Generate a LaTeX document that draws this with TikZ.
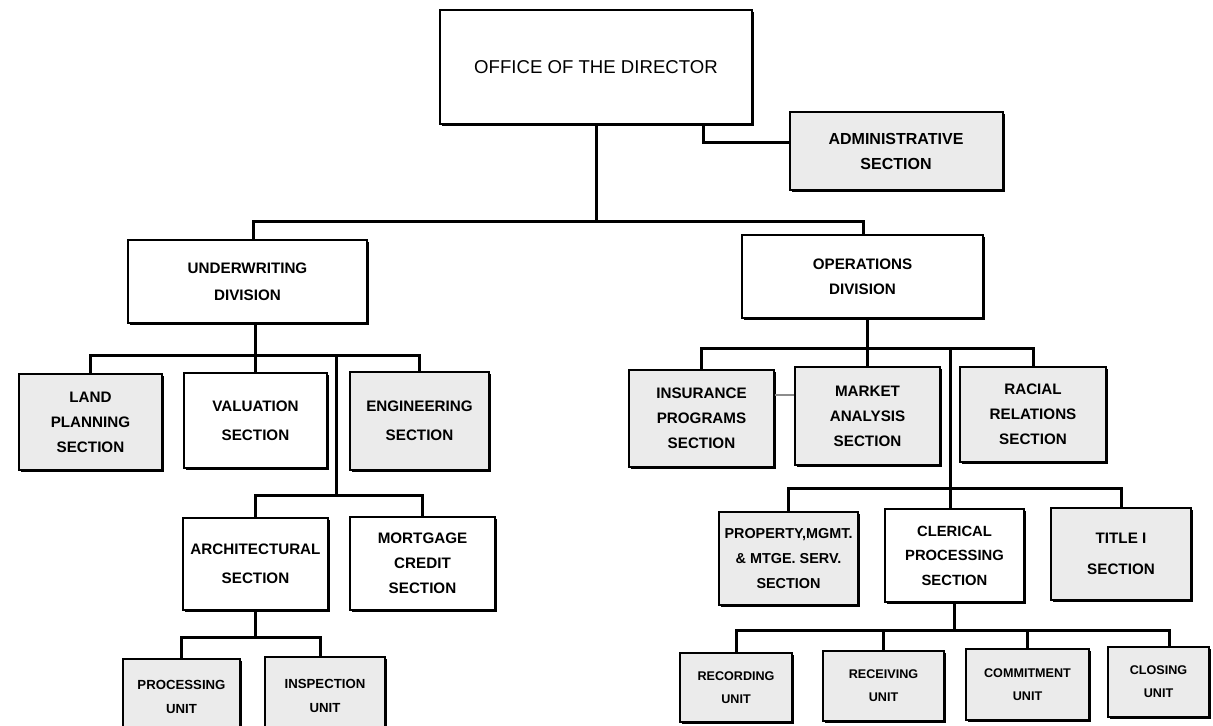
\documentclass[tikz,border=0pt]{standalone}
\usepackage{fontspec}
\setmainfont{Liberation Sans}
\usetikzlibrary{shadows}
\begin{document}
\begin{tikzpicture}[x=0.5pt,y=-0.5pt,
  sz/.style 2 args={minimum width={#1*0.5pt},minimum height={#2*0.5pt}},
  base/.style={draw=black,line width=1pt,inner sep=0pt,align=center,
    drop shadow={shadow xshift=1.1pt,shadow yshift=-1.2pt,fill=black,opacity=1}},
  wbox/.style={base,fill=white},
  gbox/.style={base,fill=black!8},
  sect/.style={font=\bfseries\fontsize{7.6}{12.5}\selectfont},
  sectw/.style={font=\bfseries\fontsize{7.6}{14.5}\selectfont},
  unit/.style={font=\bfseries\fontsize{6.3}{11.5}\selectfont},
  conn/.style={line width=1.5pt,line cap=rect}]
\useasboundingbox (0,0) rectangle (1213,725);
\clip (0,0) rectangle (1213,725);
\fill[white] (0,0) rectangle (1213,725);

% nodes
\node[wbox,sz={312}{114},font=\fontsize{9.3}{11}\selectfont] (office) at (596,67) {OFFICE OF THE DIRECTOR};
\node[gbox,sz={213}{78},font=\bfseries\fontsize{8}{12.5}\selectfont] (admin) at (896,151) {ADMINISTRATIVE\\SECTION};
\node[wbox,sz={239}{83},font=\bfseries\fontsize{7.6}{13.5}\selectfont] (uw) at (247.5,281.5) {UNDERWRITING\\DIVISION};
\node[wbox,sz={241}{83},sect] (ops) at (862.5,276.5) {OPERATIONS\\DIVISION};

\node[gbox,sz={143}{96},sect] (land) at (90.5,422) {LAND\\PLANNING\\SECTION};
\node[wbox,sz={143}{95},sectw] (valuation) at (255.5,420.5) {VALUATION\\SECTION};
\node[gbox,sz={139}{98},sectw] (engineering) at (419.5,421) {ENGINEERING\\SECTION};
\node[wbox,sz={145}{92},sectw] (arch) at (255.5,564) {ARCHITECTURAL\\SECTION};
\node[wbox,sz={145}{93},sect] (mortgage) at (422.5,563.5) {MORTGAGE\\CREDIT\\SECTION};
\node[gbox,sz={117}{76},font=\bfseries\fontsize{6.6}{12}\selectfont] (processing) at (181.5,697) {PROCESSING\\UNIT};
\node[gbox,sz={120}{78},font=\bfseries\fontsize{6.6}{12}\selectfont] (inspection) at (325,696) {INSPECTION\\UNIT};

\node[gbox,sz={145}{97},sect] (insurance) at (701.5,418.5) {INSURANCE\\PROGRAMS\\SECTION};
\node[gbox,sz={145}{98},sect] (market) at (867.5,416) {MARKET\\ANALYSIS\\SECTION};
\node[gbox,sz={146}{95},sect] (racial) at (1033,414.5) {RACIAL\\RELATIONS\\SECTION};
\node[gbox,sz={139}{93},font=\bfseries\fontsize{7.2}{12.3}\selectfont] (property) at (788.5,558.5) {PROPERTY,MGMT.\\\& MTGE. SERV.\\SECTION};
\node[wbox,sz={139}{93},font=\bfseries\fontsize{7.4}{12.3}\selectfont] (clerical) at (954.5,555.5) {CLERICAL\\PROCESSING\\SECTION};
\node[gbox,sz={140}{92},font=\bfseries\fontsize{7.6}{15.5}\selectfont] (title) at (1121,554) {TITLE I\\SECTION};

\node[gbox,sz={112}{69},unit] (recording) at (736,687.5) {RECORDING\\UNIT};
\node[gbox,sz={121}{70},unit] (receiving) at (883.5,686) {RECEIVING\\UNIT};
\node[gbox,sz={123}{71},unit] (commitment) at (1027.5,684.5) {COMMITMENT\\UNIT};
\node[gbox,sz={101}{70},unit] (closing) at (1158.5,682) {CLOSING\\UNIT};

% bus coordinates
\coordinate (b0) at (0,221);
\coordinate (s-uw) at (253,221);
\coordinate (s-ops) at (863,221);
\coordinate (k-adm) at (703,142);
\coordinate (b1) at (0,355);
\coordinate (k-ul) at (336,355);
\coordinate (b2) at (0,495);
\coordinate (b3) at (0,637);
\coordinate (s-insp) at (320,637);
\coordinate (b4) at (0,348);
\coordinate (k-op) at (950,348);
\coordinate (b5) at (0,488);
\coordinate (b6) at (0,630);
\coordinate (s-clo) at (1169,630);
\coordinate (k-im) at (0,395);

% connectors
\draw[conn] (office.south) -- (office.south |- b0);
\draw[conn] (office.south -| k-adm) |- (admin.west |- k-adm);
\draw[conn] (s-uw |- uw.north) -- (s-uw) -- (s-ops) -- (s-ops |- ops.north);

\draw[conn] (uw.south -| valuation.north) -- (valuation.north);
\draw[conn] (land.north) -- (land.north |- b1) -- (engineering.north |- b1) -- (engineering.north);
\draw[conn] (k-ul) -- (k-ul |- b2);
\draw[conn] (arch.north) -- (arch.north |- b2) -- (mortgage.north |- b2) -- (mortgage.north);
\draw[conn] (arch.south) -- (arch.south |- b3);
\draw[conn] (processing.north) -- (processing.north |- b3) -- (s-insp) -- (s-insp |- inspection.north);

\draw[conn] (ops.south -| market.north) -- (market.north);
\draw[conn] (insurance.north) -- (insurance.north |- b4) -- (racial.north |- b4) -- (racial.north);
\draw[conn] (k-op) -- (k-op |- clerical.north);
\draw[conn] (property.north) -- (property.north |- b5) -- (title.north |- b5) -- (title.north);
\draw[conn] (clerical.south) -- (clerical.south |- b6);
\draw[conn] (recording.north) -- (recording.north |- b6) -- (s-clo) -- (s-clo |- closing.north);
\draw[conn] (receiving.north |- b6) -- (receiving.north);
\draw[conn] (commitment.north |- b6) -- (commitment.north);

\draw[black!45,line width=0.6pt] (insurance.east |- k-im) -- (market.west |- k-im);
\end{tikzpicture}
\end{document}
